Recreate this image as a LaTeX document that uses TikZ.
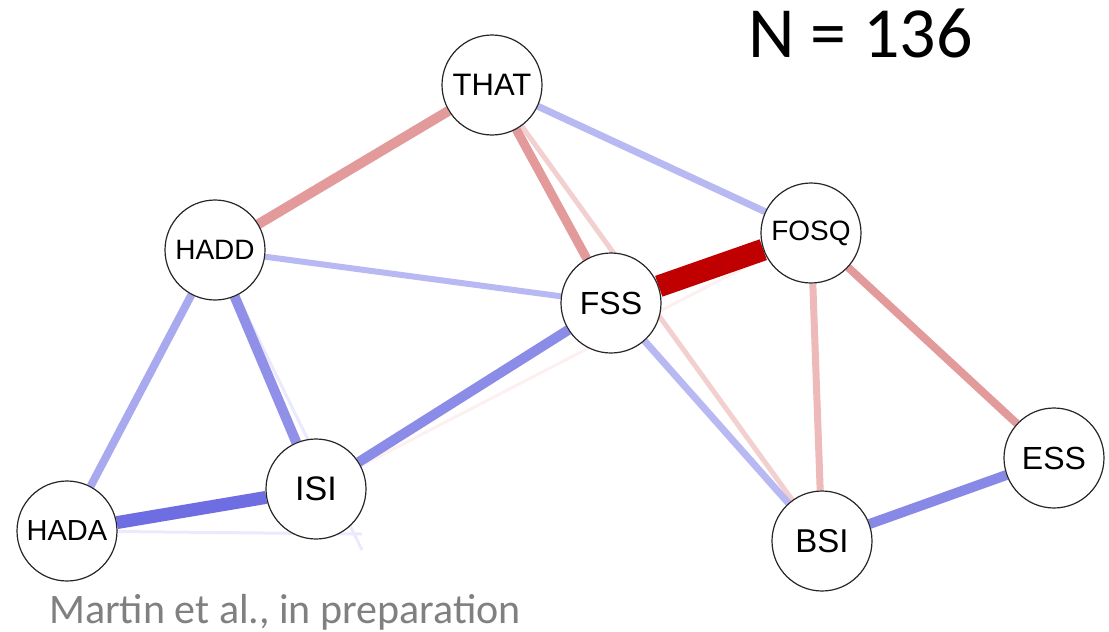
\documentclass[tikz,border=0pt]{standalone}
\usepackage{fontspec}
\setmainfont{Liberation Sans}
\newfontfamily\calibri{Carlito}

% edge colours: red = positive, blue = negative, lighter = weaker
\definecolor{redS}{HTML}{C00000}
\definecolor{redM}{HTML}{E39A9A}
\definecolor{redL}{HTML}{EDB9B9}
\definecolor{redXL}{HTML}{F3D0D0}
\definecolor{redF}{HTML}{FCF0F0}
\definecolor{bluS}{HTML}{6E6EE2}
\definecolor{bluM}{HTML}{8B8BE8}
\definecolor{bluML}{HTML}{A9A9F0}
\definecolor{bluL}{HTML}{B8B8F2}
\definecolor{bluF}{HTML}{EAEAFC}

\pgfdeclarelayer{edges}
\pgfsetlayers{edges,main}

\tikzset{
  var/.style={circle, draw=black!85, line width=1.2pt, fill=white,
              minimum size=100pt, inner sep=0pt},
  link/.style={line cap=butt},
}

\begin{document}
\begin{tikzpicture}[x=1pt,y=-1pt]
\useasboundingbox (0,0) rectangle (1109,632);

% variables
\node[var, font=\fontsize{31}{31}\selectfont] (THAT) at (492,85)  {THAT};
\node[var, font=\fontsize{28}{28}\selectfont] (HADD) at (215,250) {HADD};
\node[var, font=\fontsize{28}{28}\selectfont] (FOSQ) at (811,233) {FOSQ};
\node[var, font=\fontsize{32}{32}\selectfont] (FSS)  at (611,303) {FSS};
\node[var, font=\fontsize{34}{34}\selectfont] (ISI)  at (316,489) {ISI};
\node[var, font=\fontsize{29}{29}\selectfont] (HADA) at (67,531)  {HADA};
\node[var, font=\fontsize{32}{32}\selectfont] (ESS)  at (1054,458) {ESS};
\node[var, font=\fontsize{33}{33}\selectfont] (BSI)  at (822,541) {BSI};

\coordinate (endA) at (362,534);
\coordinate (endB) at (362,550);

% partial correlations
\begin{pgfonlayer}{edges}
  \draw[link, redF,  line width=3pt]  (ISI) -- (FOSQ);
  \draw[link, bluF,  line width=3pt]  (HADA) -- (endA);
  \draw[link, bluF,  line width=3pt]  (HADD) -- (endB);
  \draw[link, redXL, line width=5pt]  (THAT) -- (BSI);
  \draw[link, redM,  line width=10pt] (THAT) -- (HADD);
  \draw[link, redM,  line width=9pt]  (THAT) -- (FSS);
  \draw[link, bluL,  line width=7pt]  (THAT) -- (FOSQ);
  \draw[link, bluL,  line width=6pt]  (HADD) -- (FSS);
  \draw[link, bluML, line width=8pt]  (HADD) -- (HADA);
  \draw[link, bluM!85!bluML, line width=10pt] (HADD) -- (ISI);
  \draw[link, bluM,  line width=10pt] (FSS) -- (ISI);
  \draw[link, bluL,  line width=7pt]  (FSS) -- (BSI);
  \draw[link, redL,  line width=7pt]  (FOSQ) -- (BSI);
  \draw[link, redM,  line width=8pt]  (FOSQ) -- (ESS);
  \draw[link, bluM!90!bluS, line width=10pt] (BSI) -- (ESS);
  \draw[link, bluS,  line width=13pt] (HADA) -- (ISI);
  \draw[link, redS,  line width=22pt] (FSS) -- (FOSQ);
\end{pgfonlayer}

% captions
\node[anchor=base west, inner sep=0pt, font=\calibri\fontsize{72}{72}\selectfont]
  (n) at (748,57) {N = 136};
\node[anchor=base west, inner sep=0pt, text=black!50,
      font=\calibri\fontsize{42}{42}\selectfont]
  (src) at (49,623) {Martin et al., in preparation};
\end{tikzpicture}
\end{document}
